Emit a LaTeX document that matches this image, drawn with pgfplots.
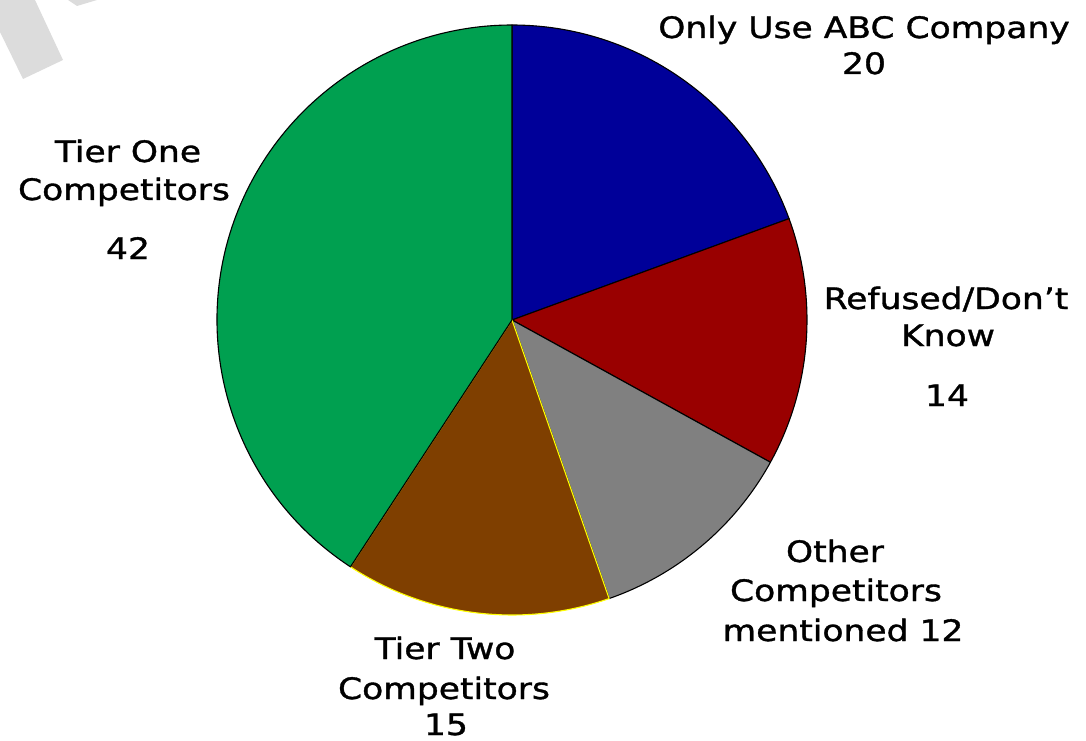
\documentclass[border=0pt]{standalone}
\usepackage{pgfplots}
\pgfplotsset{compat=1.18}
\usepackage{pgfplotstable}
\usepackage{fontspec}
\setmainfont{DejaVu Sans}[FakeStretch=1.17, FakeBold=1.2]

\definecolor{pieBlue}{HTML}{000099}
\definecolor{pieRed}{HTML}{990000}
\definecolor{pieGray}{HTML}{808080}
\definecolor{pieBrown}{HTML}{7F3F00}
\definecolor{pieGreen}{HTML}{00A050}
\definecolor{pieEdgeYellow}{HTML}{FFFF00}
\definecolor{markGray}{HTML}{DCDCDC}

% survey answers, clockwise from 12 o'clock
\pgfplotstableread[col sep=comma]{
answer,value,fillc,linec
Only Use ABC Company,20,pieBlue,black
Refused/Don't Know,14,pieRed,black
Other Competitors mentioned,12,pieGray,black
Tier Two Competitors,15,pieBrown,pieEdgeYellow
Tier One Competitors,42,pieGreen,black
}\pietable

\begin{document}
\begin{tikzpicture}
\useasboundingbox (0,0) rectangle (1086pt,740pt);
\begin{axis}[
  hide axis, scale only axis,
  width=1086pt, height=740pt,
  xmin=0, xmax=1086, ymin=0, ymax=740,
  clip=false, anchor=south west, at={(0,0)},
]
% faint watermark strokes in the corner
\fill[markGray] (axis cs:0,740) -- (axis cs:35,740) -- (axis cs:63,680)
  -- (axis cs:23,661) -- (axis cs:0,708) -- cycle;
\fill[markGray] (axis cs:68,740) -- (axis cs:97,740) -- (axis cs:77,734) -- cycle;

% total of all answers
\pgfplotstablegetrowsof{\pietable}
\pgfmathtruncatemacro\lastrow{\pgfplotsretval-1}
\def\pietotal{0}
\pgfplotsforeachungrouped \i in {0,...,\lastrow}{%
  \pgfplotstablegetelem{\i}{value}\of\pietable
  \pgfmathsetmacro\pietotal{\pietotal+\pgfplotsretval}%
}
% wedges
\def\startang{90}
\pgfplotsforeachungrouped \i in {0,...,\lastrow}{%
  \pgfplotstablegetelem{\i}{value}\of\pietable
  \let\v=\pgfplotsretval
  \pgfplotstablegetelem{\i}{fillc}\of\pietable
  \let\fc=\pgfplotsretval
  \pgfplotstablegetelem{\i}{linec}\of\pietable
  \let\lc=\pgfplotsretval
  \pgfmathsetmacro\endang{\startang-360*\v/\pietotal}%
  \edef\wedge{\noexpand\filldraw[fill=\fc, draw=\lc, line width=1.1pt, line join=round]
    (axis cs:512,420) -- ++(\startang:295pt)
    arc[start angle=\startang, end angle=\endang, radius=295pt] -- cycle;}%
  \wedge
  \let\startang=\endang
}

% category labels
\tikzset{lbl/.style={anchor=base, inner sep=0pt, font=\fontsize{29.5}{38}\selectfont}}
\node[lbl] at (axis cs:864,702) {Only Use ABC Company};
\node[lbl] at (axis cs:864,666) {20};
\node[lbl] at (axis cs:946,431) {Refused/Don’t};
\node[lbl] at (axis cs:948,394) {Know};
\node[lbl] at (axis cs:947,334) {14};
\node[lbl] at (axis cs:835,178) {Other};
\node[lbl] at (axis cs:836,139) {Competitors};
\node[lbl] at (axis cs:843,99) {mentioned 12};
\node[lbl] at (axis cs:445,81) {Tier Two};
\node[lbl] at (axis cs:444,41) {Competitors};
\node[lbl] at (axis cs:446,5) {15};
\node[lbl] at (axis cs:128,578) {Tier One};
\node[lbl] at (axis cs:124,540) {Competitors};
\node[lbl] at (axis cs:128,481) {42};
\end{axis}
\end{tikzpicture}
\end{document}
